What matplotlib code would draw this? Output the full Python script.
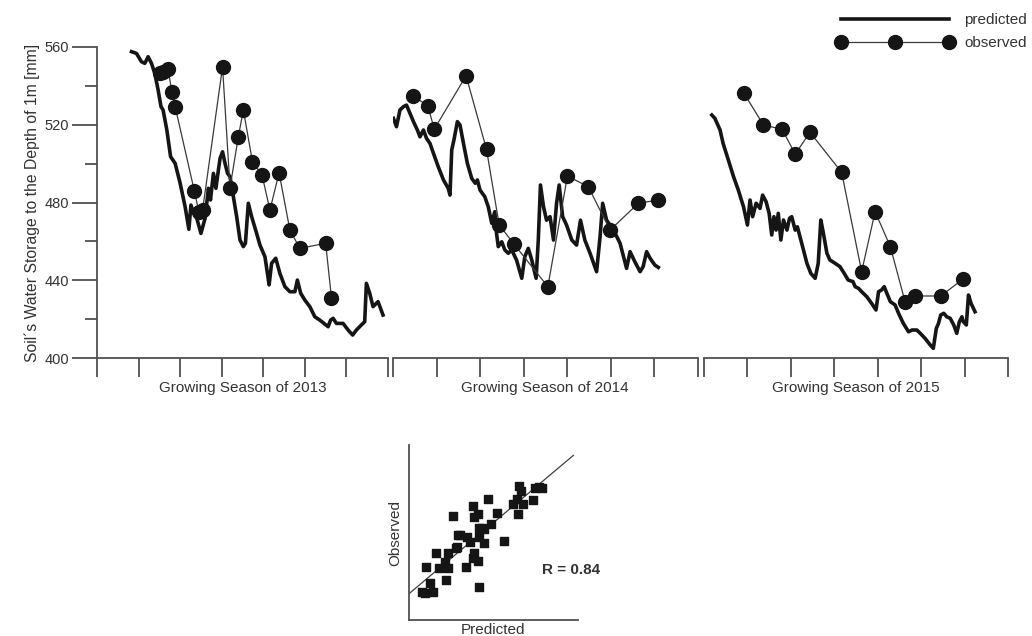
import matplotlib
matplotlib.use("Agg")
import matplotlib.pyplot as plt
from matplotlib.lines import Line2D
from matplotlib.ticker import MultipleLocator
import numpy as np

plt.rcParams['font.family'] = ['Liberation Sans', 'DejaVu Sans']

# --- datos (x en unidades de marca del eje, y en mm) ---
seasons = ["Growing Season of 2013", "Growing Season of 2014", "Growing Season of 2015"]

pred13_x = [0.83, 0.95, 1.07, 1.15, 1.23, 1.31, 1.39, 1.47, 1.54, 1.59, 1.68, 1.77, 1.88, 2.00,
            2.12, 2.21, 2.26, 2.31, 2.40, 2.50, 2.60, 2.68, 2.73, 2.80, 2.86, 2.92, 2.96, 3.02,
            3.08, 3.14, 3.20, 3.28, 3.36, 3.44, 3.52, 3.57, 3.64, 3.72, 3.84, 3.92, 4.04, 4.10,
            4.14, 4.20, 4.30, 4.40, 4.52, 4.64, 4.76, 4.82, 4.90, 5.00, 5.12, 5.24, 5.36, 5.46,
            5.56, 5.62, 5.68, 5.76, 5.92, 6.04, 6.15, 6.24, 6.36, 6.44, 6.48, 6.56, 6.64, 6.76, 6.88]
pred13_y = [557.6, 556.7, 552.4, 551.6, 555.0, 551.6, 546.4, 537.9, 529.3, 527.6, 517.3, 503.6, 500.1, 489.9,
            477.8, 466.2, 478.7, 475.3, 471.9, 464.1, 471.9, 487.3, 481.3, 495.0, 487.3, 496.7, 502.7, 506.1,
            500.1, 495.0, 493.3, 483.0, 472.7, 460.7, 457.3, 459.0, 479.6, 472.7, 464.1, 458.1, 452.1, 443.5,
            437.6, 448.7, 451.3, 443.5, 436.7, 434.1, 434.1, 440.1, 433.3, 429.8, 426.4, 421.2, 419.5, 417.8,
            416.1, 419.5, 420.4, 417.8, 417.8, 414.4, 411.8, 414.4, 417.0, 418.7, 438.4, 433.3, 426.4, 429.0, 422.1]
obs13_x = [1.51, 1.59, 1.71, 1.80, 1.88, 2.34, 2.45, 2.54, 3.02, 3.20, 3.40, 3.52, 3.74, 3.97,
           4.16, 4.38, 4.64, 4.88, 5.50, 5.64]
obs13_y = [546.4, 547.3, 548.5, 537.0, 529.3, 486.1, 475.3, 476.1, 549.8, 487.7, 513.8, 527.6, 501.0, 494.1,
           476.1, 495.3, 465.8, 456.4, 459.0, 431.0]

pred14_x = [0.01, 0.08, 0.16, 0.24, 0.31, 0.39, 0.47, 0.56, 0.62, 0.70, 0.77, 0.85, 0.93, 1.04, 1.16,
            1.27, 1.31, 1.35, 1.40, 1.48, 1.54, 1.62, 1.71, 1.81, 1.89, 1.94, 2.00, 2.11, 2.19, 2.27,
            2.34, 2.38, 2.42, 2.50, 2.57, 2.65, 2.73, 2.84, 2.96, 3.03, 3.11, 3.19, 3.29, 3.34, 3.39,
            3.46, 3.53, 3.61, 3.69, 3.76, 3.82, 3.90, 3.99, 4.11, 4.22, 4.31, 4.41, 4.53, 4.68, 4.76,
            4.82, 4.91, 5.07, 5.22, 5.37, 5.45, 5.56, 5.68, 5.75, 5.83, 5.91, 6.02, 6.10]
pred14_y = [523.3, 519.0, 527.6, 529.3, 530.1, 525.9, 521.6, 517.3, 513.8, 517.3, 513.0, 510.4, 505.3, 498.4, 491.6,
            487.3, 483.8, 507.0, 512.1, 521.6, 519.9, 510.4, 500.1, 492.4, 489.9, 491.6, 486.4, 483.0, 477.8, 469.3,
            475.3, 464.1, 457.3, 459.8, 455.6, 453.9, 455.6, 450.4, 441.0, 452.1, 456.4, 450.4, 441.0, 460.7, 489.0,
            477.8, 470.9, 472.7, 460.7, 479.6, 489.0, 472.7, 468.4, 460.7, 458.1, 470.9, 460.7, 453.9, 444.4, 462.4,
            479.6, 470.9, 465.8, 459.0, 446.1, 454.7, 449.5, 444.4, 447.0, 454.7, 451.3, 447.8, 446.6]
obs14_x = [0.47, 0.80, 0.95, 1.68, 2.15, 2.44, 2.78, 3.56, 4.01, 4.49, 4.99, 5.64, 6.10]
obs14_y = [534.9, 529.6, 517.8, 545.2, 507.3, 468.6, 458.6, 436.7, 493.6, 488.1, 465.8, 479.6, 481.3]

pred15_x = [0.18, 0.25, 0.37, 0.44, 0.56, 0.68, 0.79, 0.91, 1.00, 1.06, 1.12, 1.20, 1.29, 1.35, 1.43,
            1.50, 1.56, 1.61, 1.66, 1.71, 1.77, 1.83, 1.91, 1.97, 2.02, 2.10, 2.15, 2.21, 2.29, 2.37,
            2.46, 2.56, 2.63, 2.69, 2.75, 2.83, 2.90, 3.02, 3.13, 3.23, 3.32, 3.43, 3.48, 3.56, 3.63,
            3.75, 3.86, 3.96, 4.02, 4.09, 4.15, 4.21, 4.29, 4.40, 4.48, 4.59, 4.71, 4.79, 4.90, 4.98,
            5.09, 5.21, 5.28, 5.35, 5.40, 5.45, 5.52, 5.59, 5.67, 5.75, 5.82, 5.88, 5.94, 5.97, 6.04,
            6.09, 6.15, 6.24]
pred15_y = [525.0, 523.3, 517.3, 510.4, 501.9, 493.3, 486.4, 477.8, 468.4, 481.3, 472.7, 479.6, 477.0, 483.8, 480.4,
            474.4, 463.3, 472.7, 465.8, 474.4, 460.7, 471.0, 465.8, 471.9, 472.7, 465.8, 467.5, 462.4, 455.6, 448.7,
            443.5, 441.0, 448.7, 471.0, 464.1, 453.9, 450.4, 448.7, 447.0, 443.5, 440.1, 439.3, 436.7, 435.8, 434.1,
            431.5, 428.1, 424.7, 434.1, 435.0, 436.7, 433.3, 429.0, 427.3, 423.0, 417.8, 413.5, 414.4, 414.4, 412.7,
            410.1, 406.7, 405.0, 415.3, 417.8, 422.1, 423.0, 421.2, 420.4, 417.0, 412.7, 418.7, 421.2, 418.7, 417.0,
            432.4, 428.1, 423.8]
obs15_x = [0.91, 1.37, 1.80, 2.10, 2.44, 3.17, 3.63, 3.94, 4.29, 4.63, 4.86, 5.45, 5.96]
obs15_y = [536.5, 519.9, 517.6, 504.9, 516.1, 495.5, 444.4, 475.3, 457.3, 429.0, 431.9, 431.9, 440.5]

# dispersion observado vs predicho
sc_pred = [412.0, 415.2, 423.0, 419.9, 435.0, 416.1, 428.7, 437.2, 454.0, 434.1, 425.6, 437.2, 444.5, 445.7,
           446.7, 448.3, 455.2, 457.8, 460.3, 461.9, 465.0, 466.3, 466.3, 471.3, 466.6, 469.5, 471.0, 477.4,
           490.2, 461.9, 465.6, 460.9, 442.0, 475.1, 483.0, 498.2, 502.9, 502.0, 504.5, 505.8, 507.7, 517.1,
           519.3, 525.7, 523.4]
sc_obs = [426.1, 425.1, 426.1, 434.5, 437.6, 449.6, 448.7, 448.7, 449.6, 454.9, 463.3, 463.3, 467.5, 468.4,
          480.0, 480.0, 478.4, 473.7, 458.1, 463.3, 455.5, 431.4, 478.4, 472.8, 487.2, 486.3, 485.4, 490.1,
          474.6, 496.7, 499.8, 507.6, 498.2, 514.5, 501.0, 509.2, 499.8, 514.5, 526.4, 521.7, 509.2, 513.6,
          524.9, 524.0, 525.5]
fit_intercept = 424.8   # obs = a + b * (pred - 400)
fit_slope = 0.838
fit_range = [400.3, 555.6]
r_value = 0.84

# --- figura ---
W, H = 1032, 636
fig = plt.figure(figsize=(W / 100, H / 100), dpi=100)
GRAY = "#505050"
TXT = "#333333"

def px_axes(left, top, right, bottom):
    return fig.add_axes([left / W, 1 - bottom / H, (right - left) / W, (bottom - top) / H])

panels = [
    (px_axes(97, 47, 388, 358), pred13_x, pred13_y, obs13_x, obs13_y),
    (px_axes(393, 47, 697.5, 358), pred14_x, pred14_y, obs14_x, obs14_y),
    (px_axes(704, 47, 1008, 358), pred15_x, pred15_y, obs15_x, obs15_y),
]

for i, (ax, px, py, ox, oy) in enumerate(panels):
    ax.plot(px, py, color="#151515", lw=2.6, solid_joinstyle="round", zorder=2)
    ax.plot(ox, oy, color="#3a3a3a", lw=0.9, marker="o", ms=10,
            mfc="#151515", mec="#151515", zorder=3)
    ax.set_xlim(0, 7)
    ax.set_ylim(400, 560)
    ax.set_xticks(range(8))
    ax.tick_params(axis="x", direction="out", length=14, width=1.3, color=GRAY, labelbottom=False)
    ax.set_xlabel(seasons[i], fontsize=11, color=TXT, labelpad=2.5)
    for s in ["top", "right"]:
        ax.spines[s].set_visible(False)
    ax.spines["bottom"].set_color(GRAY)
    ax.spines["bottom"].set_linewidth(1.3)
    ax.patch.set_visible(False)
    if i == 0:
        ax.spines["left"].set_color(GRAY)
        ax.spines["left"].set_linewidth(1.3)
        ax.yaxis.set_major_locator(MultipleLocator(40))
        ax.yaxis.set_minor_locator(MultipleLocator(20))
        ax.tick_params(axis="y", which="major", direction="out", length=18, width=1.3,
                       color=GRAY, labelsize=10.5, labelcolor=TXT, pad=2)
        ax.tick_params(axis="y", which="minor", direction="out", length=9, width=1.3, color=GRAY)
        ax.set_ylabel("Soil´s Water Storage to the Depth of 1m [mm]", fontsize=11.3, color=TXT, labelpad=3)
    else:
        ax.spines["left"].set_visible(False)
        ax.tick_params(axis="y", which="both", left=False, labelleft=False)

# leyenda
h_pred = Line2D([], [], color="#151515", lw=2.6)
h_obs = Line2D([], [], color="#3a3a3a", lw=0.9, marker="o", ms=10, mfc="#151515", mec="#151515")
fig.legend([h_pred, h_obs], ["predicted", "observed"], loc="upper right",
           bbox_to_anchor=(1027 / W, 1 - 13 / H), frameon=False, numpoints=3, handlelength=7.7,
           handletextpad=0.7, labelspacing=0.62, borderaxespad=0, borderpad=0,
           fontsize=11, labelcolor=TXT)

# dispersión
axs = px_axes(409, 445, 578, 620)
axs.scatter(sc_pred, sc_obs, marker="s", s=26, color="#151515", zorder=3)
fx = np.array(fit_range)
axs.plot(fx, fit_intercept + fit_slope * (fx - 400), color="#404040", lw=0.9, zorder=2)
axs.set_xlim(400, 560)
axs.set_ylim(400, 565)
axs.set_xticks([])
axs.set_yticks([])
for s in ["top", "right"]:
    axs.spines[s].set_visible(False)
for s in ["left", "bottom"]:
    axs.spines[s].set_color(GRAY)
    axs.spines[s].set_linewidth(1.3)
axs.set_xlabel("Predicted", fontsize=11, color=TXT, labelpad=2)
axs.set_ylabel("Observed", fontsize=11, color=TXT, labelpad=5)
axs.text(0.787, 0.286, f"R = {r_value:.2f}", transform=axs.transAxes, fontsize=11,
         fontweight="bold", color=TXT, ha="left", va="center")

fig.savefig("out.png", dpi=100)
